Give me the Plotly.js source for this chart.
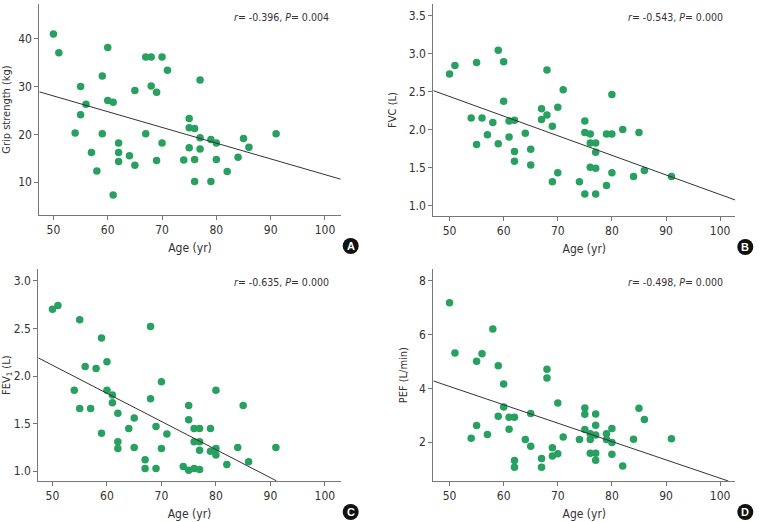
<!DOCTYPE html>
<html>
<head>
<meta charset="utf-8">
<script src="https://cdn.plot.ly/plotly-3.0.1.min.js"></script>
<style>body{margin:0;background:#fff}</style>
</head>
<body>
<div id="chart" style="width:762px;height:522px"></div>
<script>
// Panel A: grip strength
const ageA = [50, 51, 54, 55, 55, 56, 57, 58, 59, 59, 60, 60, 61, 61, 62, 62, 62, 64, 65, 65, 67, 68, 67, 68, 69, 69, 70, 70, 71, 74, 75, 75, 76, 75, 76, 76, 77, 77, 77, 79, 80, 80, 79, 82, 84, 85, 86, 91];
const gripA = [41.0, 37.1, 20.3, 30.0, 24.1, 26.3, 16.2, 12.3, 32.2, 20.1, 38.2, 27.1, 26.7, 7.3, 18.2, 16.2, 14.3, 15.5, 29.2, 13.5, 36.2, 36.2, 20.1, 30.1, 28.8, 14.5, 36.2, 18.2, 33.4, 14.6, 23.3, 21.4, 21.2, 17.2, 14.7, 10.1, 31.4, 19.3, 16.9, 18.9, 18.2, 14.7, 10.1, 12.2, 15.2, 19.1, 17.3, 20.1];
const fitAx = [47.4, 102.9];
const fitAy = [28.9, 10.6];

// Panel B: FVC
const ageB = [50, 51, 54, 55, 55, 56, 57, 58, 59, 59, 60, 60, 61, 61, 62, 62, 62, 64, 65, 65, 67, 67, 68, 68, 69, 69, 70, 70, 71, 74, 75, 75, 75, 76, 76, 76, 77, 77, 77, 77, 79, 79, 80, 80, 80, 82, 84, 85, 86, 91];
const fvcB = [2.73, 2.84, 2.15, 2.88, 1.80, 2.15, 1.93, 2.09, 3.04, 1.81, 2.89, 2.37, 2.11, 1.90, 2.12, 1.71, 1.58, 1.95, 1.74, 1.53, 2.27, 2.13, 2.78, 2.19, 2.04, 1.31, 2.29, 1.43, 2.52, 1.31, 2.11, 1.96, 1.15, 1.94, 1.82, 1.50, 1.82, 1.70, 1.49, 1.15, 1.94, 1.26, 2.46, 1.94, 1.43, 2.00, 1.38, 1.96, 1.46, 1.38];
const fitBx = [47.0, 102.8];
const fitBy = [2.51, 1.07];

// Panel C: FEV1
const ageC = [50, 51, 54, 55, 55, 56, 57, 58, 59, 59, 60, 60, 61, 61, 62, 62, 62, 64, 65, 65, 67, 67, 68, 68, 69, 69, 70, 70, 71, 74, 75, 75, 75, 76, 76, 76, 77, 77, 77, 77, 79, 79, 80, 80, 80, 82, 84, 85, 86, 91];
const fev1C = [2.70, 2.74, 1.85, 2.59, 1.66, 2.10, 1.66, 2.08, 2.40, 1.40, 2.15, 1.85, 1.80, 1.72, 1.61, 1.31, 1.24, 1.45, 1.56, 1.25, 1.12, 1.03, 2.52, 1.76, 1.47, 1.03, 1.94, 1.24, 1.39, 1.05, 1.69, 1.54, 1.01, 1.45, 1.31, 1.03, 1.45, 1.31, 1.22, 1.02, 1.45, 1.21, 1.24, 1.85, 1.17, 1.07, 1.25, 1.69, 1.10, 1.25];
const fitCx = [47.4, 91.1];
const fitCy = [2.19, 0.90];

// Panel D: PEF
const ageD = [50, 51, 54, 55, 55, 56, 57, 58, 59, 59, 60, 60, 61, 61, 62, 62, 62, 64, 65, 65, 67, 67, 68, 68, 69, 69, 70, 70, 71, 74, 75, 75, 75, 76, 76, 76, 77, 77, 77, 77, 77, 79, 79, 80, 80, 80, 82, 84, 85, 86, 91];
const pefD = [7.19, 5.32, 2.15, 5.01, 2.62, 5.29, 2.29, 6.21, 4.84, 2.97, 4.17, 3.31, 2.93, 2.48, 2.93, 1.32, 1.07, 2.10, 3.07, 1.85, 1.40, 1.07, 4.71, 4.39, 1.80, 1.49, 3.46, 1.57, 2.20, 2.10, 3.27, 3.04, 2.47, 2.32, 2.10, 1.59, 3.05, 2.63, 2.27, 1.59, 1.33, 2.32, 2.10, 2.51, 1.99, 1.55, 1.12, 2.11, 3.26, 2.85, 2.13];
const fitDx = [47.0, 101.5];
const fitDy = [4.28, 0.56];

const xTicks = [50, 60, 70, 80, 90, 100];
const statsText = ['<i>r</i>= -0.396, <i>P</i>= 0.004', '<i>r</i>= -0.543, <i>P</i>= 0.000',
                   '<i>r</i>= -0.635, <i>P</i>= 0.000', '<i>r</i>= -0.498, <i>P</i>= 0.000'];
const yTitles = ['Grip strength (kg)', 'FVC (L)', 'FEV<sub>1</sub> (L)', 'PEF (L/min)'];
const panelLetters = ['A', 'B', 'C', 'D'];

const W = 762, H = 522;
const green = '#27a060';
const font = "'DejaVu Sans Condensed', 'Liberation Sans', Arial, sans-serif";

// pixel boxes of the four plot areas: [left, right, top, bottom]
const boxes = [[39.3, 340.7, 4, 215], [433.3, 735.3, 4, 216], [38.3, 340.7, 269.3, 481], [433.3, 735.3, 269.3, 481]];

function pts(x, y, n) {
    return {x: x, y: y, mode: 'markers', type: 'scatter', xaxis: 'x' + n, yaxis: 'y' + n,
        marker: {color: green, size: 7.5}, showlegend: false, hoverinfo: 'x+y'};
}
function fit(x, y, n) {
    return {x: x, y: y, mode: 'lines', type: 'scatter', xaxis: 'x' + n, yaxis: 'y' + n,
        line: {color: '#333', width: 1}, showlegend: false, hoverinfo: 'skip'};
}

const data = [
    pts(ageA, gripA, ''), fit(fitAx, fitAy, ''),
    pts(ageB, fvcB, 2), fit(fitBx, fitBy, 2),
    pts(ageC, fev1C, 3), fit(fitCx, fitCy, 3),
    pts(ageD, pefD, 4), fit(fitDx, fitDy, 4)
];

const axisCommon = {
    showline: true, linecolor: '#777', linewidth: 1, mirror: false,
    showgrid: false, zeroline: false, ticks: 'outside', ticklen: 4, tickcolor: '#777',
    tickfont: {family: font, size: 12, color: '#333'}
};

const yRanges = [[3.1, 47.3], [0.86, 3.65], [0.898, 3.12], [0.56, 8.43]];
const yTickVals = [[10, 20, 30, 40], [1, 1.5, 2, 2.5, 3, 3.5], [1, 1.5, 2, 2.5, 3], [2, 4, 6, 8]];
const yFormats = ['d', '.1f', '.1f', 'd'];
const xRanges = [[47.4, 102.9], [47.0, 102.8], [47.4, 102.9], [47.0, 102.8]];

const layout = {
    width: W, height: H,
    margin: {l: 0, r: 0, t: 0, b: 0},
    paper_bgcolor: '#fff', plot_bgcolor: '#fff',
    font: {family: font, color: '#333'},
    annotations: [], shapes: []
};

boxes.forEach((b, i) => {
    const s = i === 0 ? '' : String(i + 1);
    layout['xaxis' + s] = Object.assign({}, axisCommon, {
        domain: [b[0] / W, b[1] / W], range: xRanges[i], tickvals: xTicks,
        anchor: 'y' + s,
        title: {text: 'Age (yr)', font: {family: font, size: 12, color: '#333'}, standoff: 7}
    });
    layout['yaxis' + s] = Object.assign({}, axisCommon, {
        domain: [1 - b[3] / H, 1 - b[2] / H], range: yRanges[i], tickvals: yTickVals[i],
        tickformat: yFormats[i], anchor: 'x' + s,
        title: {text: yTitles[i], font: {family: font, size: 11, color: '#333'}, standoff: 9}
    });
    // r and P in the top right corner
    layout.annotations.push({
        xref: 'paper', yref: 'paper', x: (b[1] - 10) / W, y: 1 - (b[2] + 13) / H,
        xanchor: 'right', yanchor: 'middle', showarrow: false,
        text: statsText[i], font: {family: font, size: 10.5, color: '#333'}
    });
    // letter badge
    const cx = (b[1] + 10) / W, cy = 1 - (b[3] + 31) / H;
    layout.shapes.push({
        type: 'circle', xref: 'paper', yref: 'paper', xsizemode: 'pixel', ysizemode: 'pixel',
        xanchor: cx, yanchor: cy, x0: -8, x1: 8, y0: -8, y1: 8,
        fillcolor: '#111', line: {color: '#111', width: 0}
    });
    layout.annotations.push({
        xref: 'paper', yref: 'paper', x: cx, y: cy, xanchor: 'center', yanchor: 'middle',
        showarrow: false, text: '<b>' + panelLetters[i] + '</b>',
        font: {family: 'Liberation Sans, Arial, sans-serif', size: 11, color: '#fff'}
    });
});

Plotly.newPlot('chart', data, layout, {displayModeBar: false, staticPlot: true});
</script>
</body>
</html>
